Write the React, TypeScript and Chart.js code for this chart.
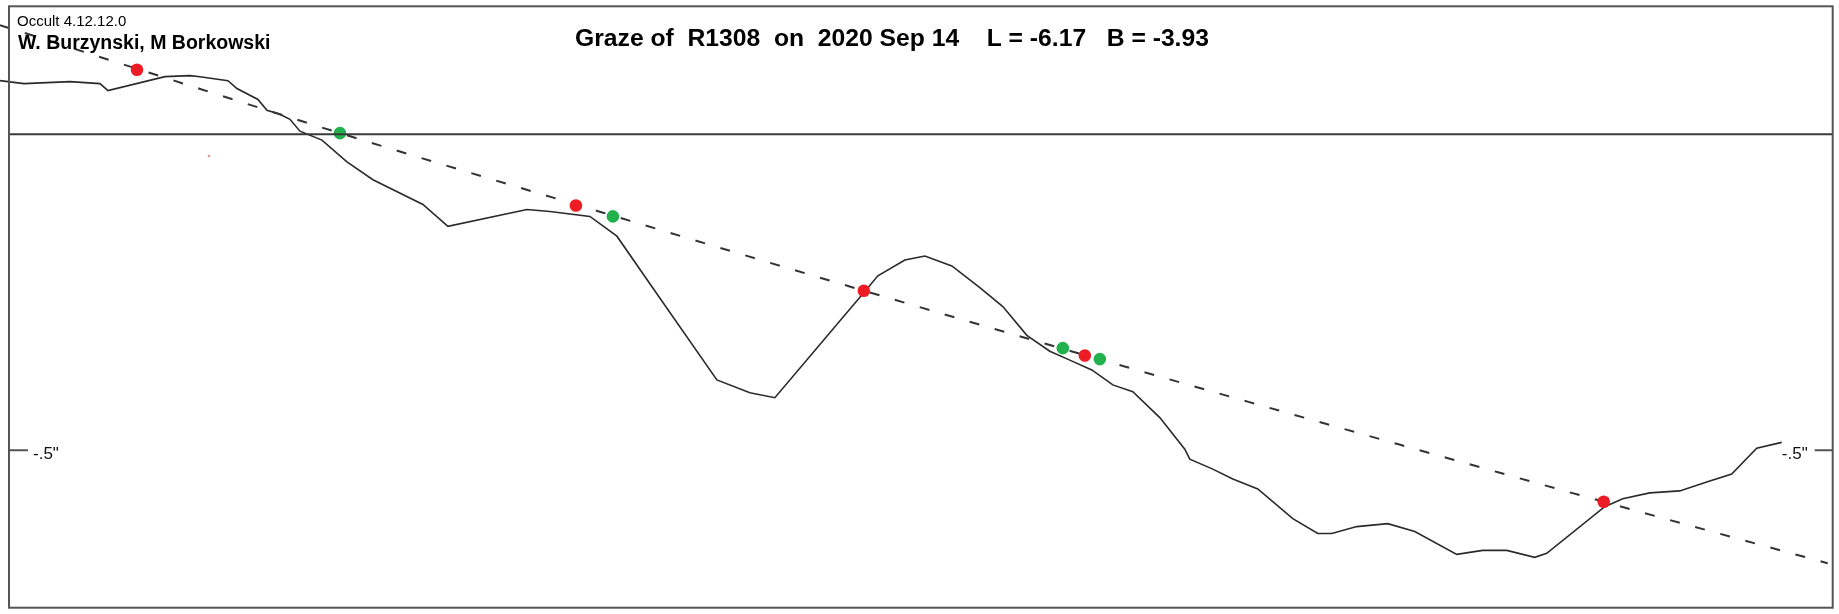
import React, { useEffect, useRef } from "react";
import { Chart, registerables } from "chart.js";

Chart.register(...registerables);

// Horizontal position along the graze (arbitrary units), vertical in arcsec
const profileX = [-9, 15, 61, 91, 99, 156, 181, 191, 219, 228, 249, 258, 271, 281, 291, 313, 338, 364, 414, 439, 518, 541, 581, 608, 641, 708, 741, 766, 854, 869, 896, 916, 943, 971, 994, 1018, 1041, 1061, 1083, 1104, 1124, 1151, 1176, 1181, 1204, 1224, 1249, 1284, 1309, 1323, 1348, 1379, 1406, 1448, 1474, 1498, 1526, 1538, 1596, 1614, 1641, 1671, 1698, 1723, 1748, 1773];
const profileY = [0.0846, 0.0799, 0.0831, 0.0799, 0.069, 0.0909, 0.0925, 0.0909, 0.0846, 0.0721, 0.0549, 0.0376, 0.0313, 0.0235, 0.0047, -0.0094, -0.0439, -0.0721, -0.1113, -0.1458, -0.1191, -0.1223, -0.1301, -0.1614, -0.2367, -0.3887, -0.4091, -0.4169, -0.2524, -0.2241, -0.1991, -0.1928, -0.2085, -0.2429, -0.2727, -0.3182, -0.3433, -0.3574, -0.373, -0.3966, -0.4075, -0.4483, -0.4984, -0.5141, -0.5298, -0.5455, -0.5611, -0.6082, -0.6317, -0.6317, -0.6207, -0.616, -0.6285, -0.6646, -0.6583, -0.6583, -0.6693, -0.663, -0.5893, -0.5768, -0.5674, -0.5643, -0.5502, -0.5376, -0.4969, -0.4875];

const pathX = [-9, 128, 331, 567, 855, 1076, 1595, 1819];
const pathY = [0.1724, 0.1034, 0.0016, -0.1113, -0.2476, -0.3495, -0.5815, -0.6787];

const redX = [128, 567, 855, 1076, 1595];
const redY = [0.1019, -0.1129, -0.2476, -0.35, -0.5815];

const greenX = [331, 604, 1054, 1091];
const greenY = [0.0016, -0.1301, -0.3385, -0.3558];

const faintX = [200];
const faintY = [-0.0345];

const tickValues = [-0.5];
const tickLabels = ['-.5"'];

const titleText = "Graze of  R1308  on  2020 Sep 14    L = -6.17   B = -3.93";
const versionText = "Occult 4.12.12.0";
const observersText = "W. Burzynski, M Borkowski";

const X_MIN = 0;
const X_MAX = 1824;
const Y_MIN = -0.749;
const Y_MAX = 0.2022;

const pts = (xs: number[], ys: number[]) => xs.map((x, i) => ({ x, y: ys[i] }));

const FONT = '"Liberation Sans", Arial, sans-serif';

const framePlugin = {
  id: "framePlugin",
  afterDatasetsDraw(chart: any) {
    const { ctx, chartArea, scales } = chart;
    const ys = scales.y;
    ctx.save();
    // zero line
    const y0 = ys.getPixelForValue(0);
    ctx.strokeStyle = "#3a3a3a";
    ctx.lineWidth = 2;
    ctx.beginPath();
    ctx.moveTo(chartArea.left, y0);
    ctx.lineTo(chartArea.right, y0);
    ctx.stroke();
    // frame
    ctx.strokeStyle = "#555";
    ctx.lineWidth = 2;
    ctx.strokeRect(chartArea.left, chartArea.top, chartArea.right - chartArea.left, chartArea.bottom - chartArea.top);
    // ticks
    ctx.fillStyle = "#111";
    ctx.font = `17px ${FONT}`;
    ctx.textBaseline = "alphabetic";
    tickValues.forEach((v, i) => {
      const ty = ys.getPixelForValue(v);
      ctx.strokeStyle = "#555";
      ctx.lineWidth = 2;
      ctx.beginPath();
      ctx.moveTo(chartArea.left, ty);
      ctx.lineTo(chartArea.left + 19, ty);
      ctx.moveTo(chartArea.right - 18, ty);
      ctx.lineTo(chartArea.right, ty);
      ctx.stroke();
      ctx.textAlign = "left";
      ctx.fillText(tickLabels[i], chartArea.left + 24, ty + 9);
      ctx.textAlign = "right";
      ctx.fillText(tickLabels[i], chartArea.right - 25, ty + 9);
    });
    // texts
    ctx.fillStyle = "#000";
    ctx.textAlign = "left";
    ctx.font = `15px ${FONT}`;
    ctx.fillText(versionText, chartArea.left + 8, 26);
    ctx.font = `bold 19.5px ${FONT}`;
    ctx.fillText(observersText, chartArea.left + 9, 49);
    ctx.font = `bold 24.7px ${FONT}`;
    ctx.fillText(titleText, 575, 46);
    ctx.restore();
  },
};

export default function App() {
  const ref = useRef<HTMLCanvasElement | null>(null);
  useEffect(() => {
    if (!ref.current) return;
    const chart = new Chart(ref.current, {
      type: "scatter",
      data: {
        datasets: [
          {
            label: "faint",
            data: pts(faintX, faintY),
            pointRadius: 1.2,
            pointBackgroundColor: "#f08a8a",
            pointBorderWidth: 0,
            showLine: false,
          },
          {
            label: "disappear",
            data: pts(redX, redY),
            pointRadius: 6.3,
            pointBackgroundColor: "#ED1C24",
            pointBorderWidth: 0,
            showLine: false,
          },
          {
            label: "reappear",
            data: pts(greenX, greenY),
            pointRadius: 6.3,
            pointBackgroundColor: "#22B14C",
            pointBorderWidth: 0,
            showLine: false,
          },
          {
            label: "path",
            data: pts(pathX, pathY),
            showLine: true,
            borderColor: "#333",
            borderWidth: 2,
            borderDash: [10, 16],
            pointRadius: 0,
            tension: 0.4,
            cubicInterpolationMode: "monotone",
            clip: false,
          },
          {
            label: "profile",
            data: pts(profileX, profileY),
            showLine: true,
            borderColor: "#2a2a2a",
            borderWidth: 1.6,
            pointRadius: 0,
            tension: 0,
            clip: false,
          },
        ],
      } as any,
      options: {
        animation: false,
        responsive: false,
        devicePixelRatio: 1,
        layout: { padding: { left: 9, right: 6, top: 5, bottom: 2 } },
        plugins: {
          legend: { display: false },
          tooltip: { enabled: false },
          title: { display: false },
        },
        events: [],
        scales: {
          x: { type: "linear", min: X_MIN, max: X_MAX, display: false },
          y: { type: "linear", min: Y_MIN, max: Y_MAX, display: false },
        },
      } as any,
      plugins: [framePlugin],
    });
    return () => chart.destroy();
  }, []);
  return (
    <div style={{ position: "absolute", left: 0, top: 0, width: 1839, height: 614, background: "#fff" }}>
      <canvas ref={ref} width={1839} height={614} style={{ display: "block", width: 1839, height: 614 }} />
    </div>
  );
}
